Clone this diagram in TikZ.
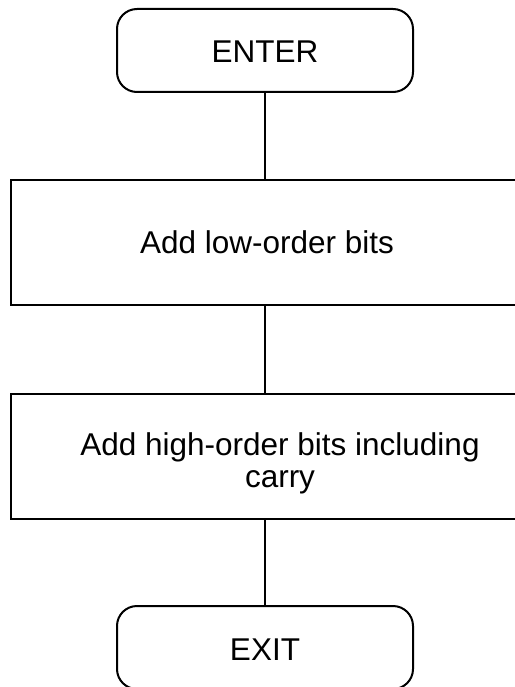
\documentclass[tikz,border=0pt]{standalone}
\usepackage{fontspec}
\setmainfont{Liberation Sans}
\begin{document}
\begin{tikzpicture}[x=1pt,y=-1pt,
  lbl/.style={font=\fontsize{31.5}{32}\selectfont},
  term/.style={lbl,draw,line width=2pt,rounded corners=20pt,minimum width=296pt,minimum height=83pt,text height=25pt,text depth=0pt},
  proc/.style={lbl,draw,line width=2pt,minimum width=512pt,minimum height=125pt},
  conn/.style={line width=2pt}]
\useasboundingbox (0,0) rectangle (514,687);
\node[term] (enter) at (265,50.5) {ENTER};
\node[proc] (p1) at (267,242.5) {Add low-order bits};
\node[proc] (p2) at (267,456) {};
\node[lbl,align=center,inner sep=0pt,anchor=north] (p2t) at (280,432) {Add high-order bits including\\carry};
\node[term] (exit) at (265,647.5) {EXIT};
\draw[conn] (enter.south) -- (enter.south |- p1.north);
\draw[conn] (p1.south -| enter.south) -- (enter.south |- p2.north);
\draw[conn] (p2.south -| enter.south) -- (exit.north);
\end{tikzpicture}
\end{document}
